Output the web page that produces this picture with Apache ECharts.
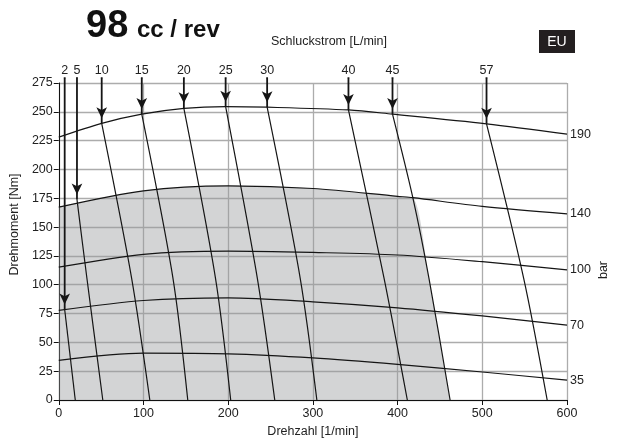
<!DOCTYPE html>
<html>
<head>
<meta charset="utf-8">
<script src="https://cdn.jsdelivr.net/npm/echarts@6/dist/echarts.min.js"></script>
<style>
  html, body { margin: 0; padding: 0; background: #fff; }
  #chart { width: 619px; height: 443px; }
</style>
</head>
<body>
<div id="chart"></div>
<script>
// iso-pressure curves, points [Drehzahl 1/min, Drehmoment Nm]
const pressureLabels = ['190', '140', '100', '70', '35']
const p190 = [[0, 228], [50.7, 240], [98, 248], [148, 253], [197, 254.5], [246, 254], [342, 251.6], [394, 248], [505, 239.6], [600, 230.7]]
const p140 = [[0, 167.3], [100, 181.5], [200, 185.8], [300, 183.5], [400, 176.7], [418, 175.5], [500, 168], [600, 161.5]]
const p100 = [[0, 115.2], [100, 126.4], [200, 129.2], [300, 128], [400, 125.8], [500, 120], [600, 112.9]]
const p70 = [[0, 77.7], [100, 86.3], [200, 88.6], [300, 85.2], [400, 80], [500, 72.9], [600, 64.9]]
const p35 = [[0, 34.3], [100, 40.6], [200, 40], [300, 36.5], [400, 30.9], [500, 24.3], [600, 17.2]]

// iso-flow lines (Schluckstrom L/min), first point = arrow tip
const flowLabels = ['2', '5', '10', '15', '20', '25', '30', '40', '45', '57']
const f2 = [[7, 78.5], [19.5, 0]]
const f5 = [[21.5, 174], [33.2, 105.8], [52, 0]]
const f10 = [[50.7, 240], [86, 105.8], [107.5, 0]]
const f15 = [[98, 248], [134.8, 105.8], [152.3, 0]]
const f20 = [[147.7, 253], [185, 105.8], [203, 0]]
const f25 = [[197, 254.5], [234.4, 105.8], [255, 0]]
const f30 = [[246, 254], [285, 105.8], [304.7, 0]]
const f40 = [[342, 251.6], [384, 105.8], [411.5, 0]]
const f45 = [[394, 248], [418, 175.5], [437, 105.8], [462, 0]]
const f57 = [[505, 239.6], [548.8, 105.8], [576.6, 0]]
const arrowTop = 279.5

const FONT = '"Liberation Sans", Arial, Helvetica, sans-serif'
const pressureCurves = [p190, p140, p100, p70, p35]
const flowLines = [f2, f5, f10, f15, f20, f25, f30, f40, f45, f57]

// Einsatzbereich (grau): 140-bar-Kurve bis 45 L/min, dann entlang 45 L/min
const corner = p140.findIndex(p => p[0] === 418)
const shade = p140.slice(0, corner + 1).concat(f45.slice(2))

const series = []

series.push({
  type: 'line',
  data: shade,
  smooth: 0.3,
  symbol: 'none',
  silent: true,
  lineStyle: { width: 0 },
  areaStyle: { color: 'rgba(150,152,156,0.42)', opacity: 1 },
  z: 1
})

pressureCurves.forEach((pts, i) => {
  series.push({
    type: 'line',
    data: pts,
    smooth: 0.3,
    symbol: 'none',
    silent: true,
    lineStyle: { color: '#151515', width: 1.2 },
    endLabel: {
      show: true,
      formatter: pressureLabels[i],
      color: '#222',
      fontSize: 12.5,
      fontFamily: FONT,
      distance: 3
    },
    z: 3
  })
})

flowLines.forEach((pts, i) => {
  const tip = pts[0]
  // Kennlinie
  series.push({
    type: 'line',
    data: pts,
    smooth: 0.3,
    symbol: 'none',
    silent: true,
    lineStyle: { color: '#151515', width: 1.2 },
    z: 3
  })
  // Pfeil von oben mit Beschriftung
  series.push({
    type: 'line',
    data: [
      {
        value: [tip[0], arrowTop],
        symbol: 'rect',
        symbolSize: [1.8, 1],
        symbolRotate: 0,
        symbolOffset: [0, 0],
        label: {
          show: true,
          position: 'top',
          distance: 0,
          formatter: flowLabels[i],
          color: '#222',
          fontSize: 12.5,
          fontFamily: FONT
        }
      },
      { value: [tip[0], tip[1]] }
    ],
    symbol: 'arrow',
    symbolSize: [8, 11],
    symbolRotate: 180,
    symbolOffset: [0, -5],
    showAllSymbol: true,
    clip: false,
    silent: true,
    itemStyle: { color: '#151515' },
    lineStyle: { color: '#151515', width: 1.8 },
    z: 4
  })
})

const chart = echarts.init(document.getElementById('chart'))
chart.setOption({
  animation: false,
  backgroundColor: '#fff',
  textStyle: { fontFamily: FONT },
  grid: { left: 55, right: 52, top: 83, bottom: 40 },
  xAxis: {
    type: 'value',
    min: 0,
    max: 600,
    interval: 100,
    name: 'Drehzahl [1/min]',
    nameLocation: 'middle',
    nameGap: 25,
    nameTextStyle: { color: '#222', fontSize: 12.5, fontFamily: FONT },
    axisLine: { lineStyle: { color: '#111', width: 1 } },
    axisTick: { length: 5, lineStyle: { color: '#111' } },
    axisLabel: { color: '#222', fontSize: 12.5, fontFamily: FONT, margin: 7 },
    splitLine: { lineStyle: { color: '#acacac', width: 1.3 } }
  },
  yAxis: {
    type: 'value',
    min: 0,
    max: 275,
    interval: 25,
    name: 'Drehmoment [Nm]',
    nameLocation: 'middle',
    nameGap: 29,
    nameTextStyle: { color: '#222', fontSize: 12.5, fontFamily: FONT, padding: [0, 0, 0, 34] },
    axisLine: { show: true, lineStyle: { color: '#111', width: 1 } },
    axisTick: { show: true, length: 5, lineStyle: { color: '#111' } },
    axisLabel: { color: '#222', fontSize: 12.5, fontFamily: FONT, margin: 6 },
    splitLine: { lineStyle: { color: '#acacac', width: 1.3 } }
  },
  graphic: [
    {
      type: 'text', x: 86, y: 27,
      style: { text: '98', font: 'bold 38px ' + FONT, fill: '#111', verticalAlign: 'middle' }
    },
    {
      type: 'text', x: 137, y: 30,
      style: { text: 'cc / rev', font: 'bold 24px ' + FONT, fill: '#111', verticalAlign: 'middle' }
    },
    {
      type: 'text', x: 271, y: 42,
      style: { text: 'Schluckstrom [L/min]', font: '12.5px ' + FONT, fill: '#222', verticalAlign: 'middle' }
    },
    {
      type: 'rect', shape: { x: 539, y: 30, width: 36, height: 23 },
      style: { fill: '#231f20' }
    },
    {
      type: 'text', x: 557, y: 42,
      style: { text: 'EU', font: '14px ' + FONT, fill: '#fff', align: 'center', verticalAlign: 'middle' }
    },
    {
      type: 'text', x: 604, y: 270, rotation: Math.PI / 2,
      style: { text: 'bar', font: '12.5px ' + FONT, fill: '#222', align: 'center', verticalAlign: 'middle' }
    }
  ],
  series: series
})
</script>
</body>
</html>
